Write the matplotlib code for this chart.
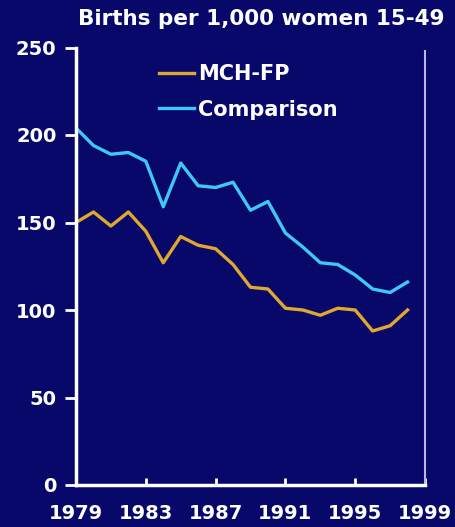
import matplotlib
matplotlib.use("Agg")
import matplotlib.pyplot as plt

years = list(range(1979, 1999))
mch_fp = [150, 156, 148, 156, 145, 127, 142, 137, 135, 126, 113, 112, 101, 100, 97, 101, 100, 88, 91, 100]
comparison = [204, 194, 189, 190, 185, 159, 184, 171, 170, 173, 157, 162, 144, 136, 127, 126, 120, 112, 110, 116]
xticks = [1979, 1983, 1987, 1991, 1995, 1999]
yticks = [0, 50, 100, 150, 200, 250]
title = "Births per 1,000 women 15-49"

bg = "#08076a"
gold = "#e0a82e"
cyan = "#3ec8f5"

plt.rcParams['font.family'] = ['DejaVu Sans']
plt.rcParams['font.weight'] = 'bold'

fig = plt.figure(figsize=(4.55, 5.27), dpi=100, facecolor=bg)
ax = fig.add_axes([76/455, 1 - 485/527, (425-76)/455, (485-47.5)/527])
ax.set_facecolor(bg)

ax.plot(years, mch_fp, color=gold, lw=2.4, label="MCH-FP", solid_joinstyle='round')
ax.plot(years, comparison, color=cyan, lw=2.4, label="Comparison", solid_joinstyle='round')

ax.set_xlim(1979, 1999)
ax.set_ylim(0, 250)
ax.set_xticks(xticks)
ax.set_yticks(yticks)
ax.set_xticklabels([str(t) for t in xticks], color="white", fontsize=14, fontweight='bold')
ax.set_yticklabels([str(t) for t in yticks], color="white", fontsize=14, fontweight='bold')
ax.tick_params(axis='y', direction='out', length=8, width=2, color='white', pad=6)
ax.tick_params(axis='x', direction='in', length=5, width=2, color='white', pad=14)

for s in ['left', 'bottom']:
    ax.spines[s].set_color('white')
    ax.spines[s].set_linewidth(2.5)
ax.spines['top'].set_visible(False)
ax.spines['right'].set_color('#b8b8e0')
ax.spines['right'].set_linewidth(1.5)
ax.spines['right'].set_bounds(0, 248)

leg = ax.legend(loc='upper left', bbox_to_anchor=(0.183, 1.005), frameon=False,
                handlelength=1.7, handletextpad=0.2, labelspacing=0.75,
                prop={'size': 15, 'weight': 'bold'})
for t in leg.get_texts():
    t.set_color('white')

fig.text(445/455, 1 - 19/527, title, color='white', fontsize=15.5, fontweight='bold',
         ha='right', va='center')

fig.savefig("out.png", dpi=100, facecolor=bg)
